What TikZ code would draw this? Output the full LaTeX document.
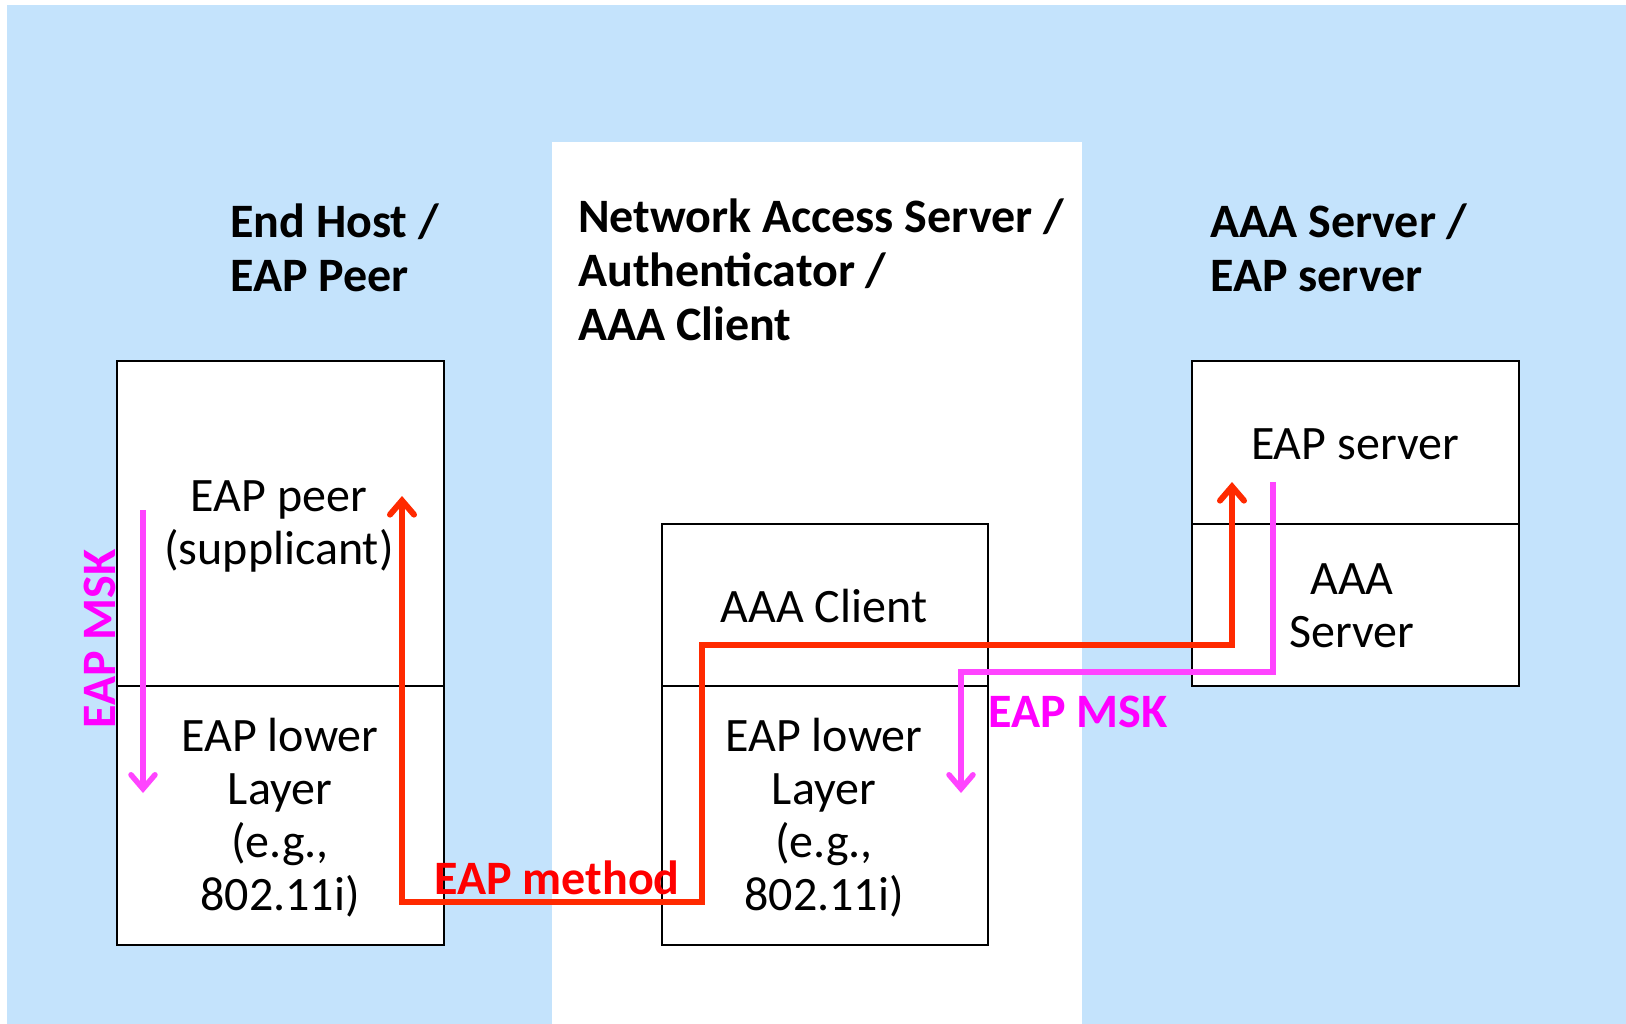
\documentclass[tikz,border=0pt]{standalone}
\usepackage{fontspec}
\setmainfont{Carlito}
\usetikzlibrary{arrows.meta}
\definecolor{bgblue}{HTML}{C4E3FC}
\definecolor{methodline}{HTML}{FF2A00}
\definecolor{methodtext}{HTML}{FF0000}
\definecolor{mskline}{HTML}{FF44FF}
\definecolor{msktext}{HTML}{FF00FF}
\begin{document}
\begin{tikzpicture}[x=1pt,y=-1pt,
  layerbox/.style={draw=black, line width=2pt, fill=white, anchor=north west, inner sep=0pt},
  boxtext/.style={align=center, inner sep=0pt, font=\fontsize{48}{53}\selectfont},
  titletext/.style={align=left, anchor=west, inner sep=0pt, font=\fontsize{48}{54}\selectfont\bfseries},
  redpath/.style={draw=methodline, line width=6pt, line join=miter, {Straight Barb[length=14pt,width=24pt,line cap=round]}-{Straight Barb[length=14pt,width=24pt,line cap=round]}},
  pinkpath/.style={draw=mskline, line width=5.5pt, -{Straight Barb[length=14pt,width=24pt,line cap=round]}},
  redlabel/.style={text=methodtext, inner sep=0pt, font=\fontsize{48}{54}\selectfont\bfseries},
  pinklabel/.style={text=msktext, inner sep=0pt, font=\fontsize{48}{54}\selectfont\bfseries}]
\useasboundingbox (0,0) rectangle (1626,1024);
% background
\fill[white] (0,0) rectangle (1626,1024);
\fill[bgblue] (7,5) rectangle (1626,1024);
\fill[white] (552,142) rectangle (1082,1024);

% titles
\node[titletext] (t1) at (230,248) {End Host /\\EAP Peer};
\node[titletext] (t2) at (578,270) {Network Access Server /\\Authenticator /\\AAA Client};
\node[titletext] (t3) at (1210,248) {AAA Server /\\EAP server};

% left box
\node[layerbox, minimum width=327pt, minimum height=325pt] (ltop) at (116,360) {};
\node[layerbox, minimum width=327pt, minimum height=259pt] (lbot) at (116,685) {};
% middle box
\node[layerbox, minimum width=326pt, minimum height=162pt] (mtop) at (661,523) {};
\node[layerbox, minimum width=326pt, minimum height=259pt] (mbot) at (661,685) {};
% right box
\node[layerbox, minimum width=327pt, minimum height=163pt] (rtop) at (1191,360) {};
\node[layerbox, minimum width=327pt, minimum height=162pt] (rbot) at (1191,523) {};

% box texts
\node[boxtext] (peer) at (279,526) {EAP peer\\(supplicant)};
\node[boxtext] (llow) at (280,818) {EAP lower\\Layer\\(e.g.,\\802.11i)};
\node[boxtext] (aaac) at (824,606) {AAA Client};
\node[boxtext] (mlow) at (824,818) {EAP lower\\Layer\\(e.g.,\\802.11i)};
\node[boxtext] (eaps) at (1355,444) {EAP server};
\node[boxtext] (aaas) at (1352,606) {AAA\\Server};

% connector coordinates
\coordinate (pa) at (402,496);
\coordinate (pb) at (402,902);
\coordinate (pc) at (702,902);
\coordinate (pd) at (702,645);
\coordinate (pe) at (1232,645);
\coordinate (pf) at (1232,482);
\draw[redpath] (pa) -- (pb) -- (pc) -- (pd) -- (pe) -- (pf);

\coordinate (ka) at (1273,482);
\coordinate (kb) at (1273,672);
\coordinate (kc) at (961,672);
\coordinate (kd) at (961,793);
\draw[pinkpath, line join=miter] (ka) -- (kb) -- (kc) -- (kd);

\coordinate (la) at (143,510);
\coordinate (lb) at (143,793);
\draw[pinkpath] (la) -- (lb);

% labels
\node[redlabel] (meth) at (557,878) {EAP method};
\node[pinklabel] (msk1) at (1078,712) {EAP MSK};
\node[pinklabel, rotate=90] (msk2) at (100,639) {EAP MSK};
\end{tikzpicture}
\end{document}
